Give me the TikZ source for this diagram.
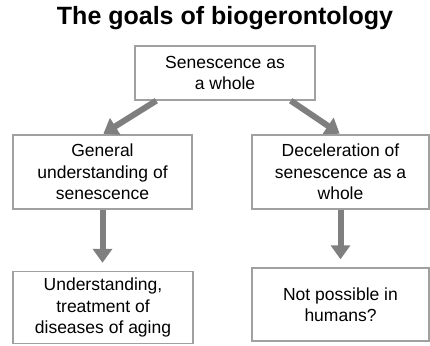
\documentclass[tikz,border=0pt]{standalone}
\usepackage{fontspec}
\setmainfont{Liberation Sans}
\usetikzlibrary{arrows.meta}
\definecolor{boxgray}{HTML}{A0A0A0}
\definecolor{arrgray}{HTML}{7F7F7F}
\tikzset{
  box/.style={draw=boxgray, line width=1.4pt, fill=white, align=center, inner sep=0pt,
    font=\fontsize{17.5}{21.5}\selectfont},
  arr/.style={draw=arrgray, line width=6pt, -{Triangle[width=19pt,length=14pt]}}
}
\begin{document}
\begin{tikzpicture}[x=1pt,y=-1pt]
\useasboundingbox (0,0) rectangle (430,345);
\node[font=\fontsize{25}{30}\selectfont\bfseries] (title) at (225,18) {The goals of biogerontology};
\node[box, minimum width=180pt, minimum height=54pt] (top) at (225,73) {Senescence as\\a whole};
\node[box, minimum width=179pt, minimum height=74pt] (lm) at (102.5,172) {General\\understanding of\\senescence};
\node[box, minimum width=177pt, minimum height=74pt] (rm) at (340.5,172) {Deceleration of\\senescence as a\\whole};
\node[box, minimum width=180pt, minimum height=72pt] (bl) at (103,307.5) {Understanding,\\treatment of\\diseases of aging};
\node[box, minimum width=177pt, minimum height=73pt] (br) at (340.5,304.5) {Not possible in\\humans?};
\draw[arr, shorten >=1pt] ([xshift=22pt]top.south west) -- (lm.north);
\draw[arr, shorten >=1pt] ([xshift=-25pt]top.south east) -- (rm.north);
\draw[arr, shorten >=8pt] (lm.south) -- (lm.south |- bl.north);
\draw[arr, shorten >=8pt] (rm.south) -- (br.north);
\end{tikzpicture}
\end{document}
